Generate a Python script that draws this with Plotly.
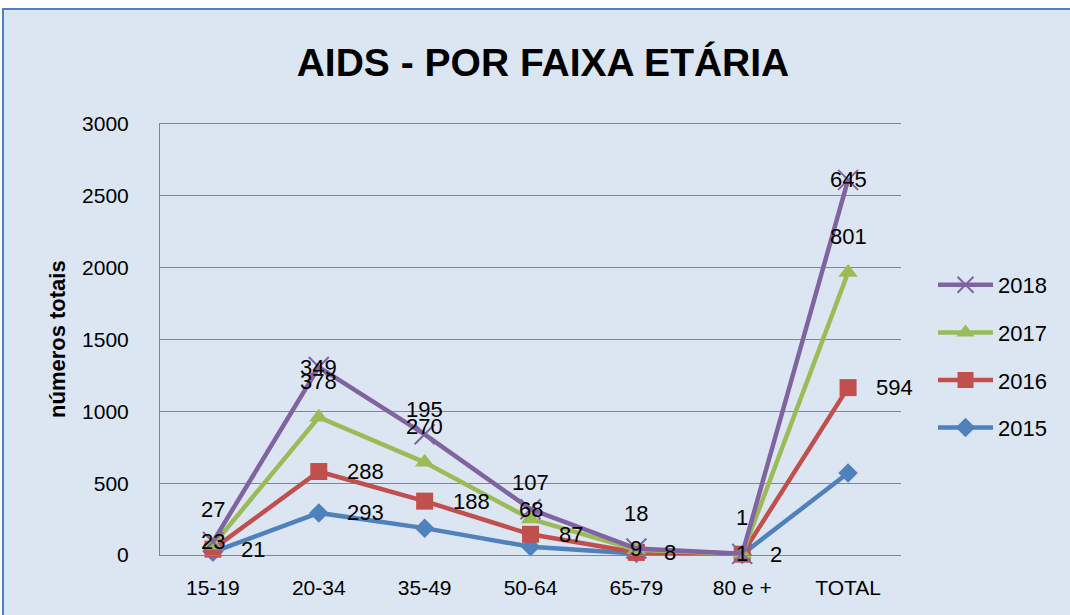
import numpy as np
import plotly.graph_objects as go

categories = ["15-19", "20-34", "35-49", "50-64", "65-79", "80 e +", "TOTAL"]
series_names = ["2015", "2016", "2017", "2018"]
v2015 = [20, 293, 187, 57, 10, 4, 571]
v2016 = [21, 288, 188, 87, 8, 2, 594]
v2017 = [27, 378, 270, 107, 18, 1, 801]
v2018 = [23, 349, 195, 68, 9, 1, 645]
y_ticks = [0, 500, 1000, 1500, 2000, 2500, 3000]

values = [v2015, v2016, v2017, v2018]
colors = ["#4F81BD", "#C0504D", "#9BBB59", "#8064A2"]
symbols = ["diamond", "square", "triangle-up", "x-thin"]
msizes = [15, 17, 17, 20]
ranks = [4, 3, 2, 1]

FONT = "Liberation Sans, Arial, sans-serif"

W, H = 1070, 615
L, R, T, B = 160, 901, 124, 555

def px(xp):
    return (xp - L) / (R - L)

def py(yp):
    return (B - yp) / (B - T)

fig = go.Figure()
for name, vals, col, sym, ms, rk in zip(series_names, values, colors, symbols, msizes, ranks):
    marker = dict(symbol=sym, size=ms, color=col)
    if sym == "x-thin":
        marker["line"] = dict(color=col, width=2)
    fig.add_trace(go.Scatter(
        x=categories, y=vals, name=name, stackgroup="one", fill="none",
        mode="lines+markers", line=dict(color=col, width=4.5),
        marker=marker, cliponaxis=False, legendgroup=name, legendrank=rk,
        hoverinfo="x+y+name",
    ))

# data labels (Excel-like placement)
cum = np.cumsum(np.array(values), axis=0)
annotations = []
label_style = {
    # series index: (which points, xanchor, xshift, yshifts)
    0: ([1], "left", 26, [0] * 7),
    1: (list(range(7)), "left", 26, [0] * 7),
    2: (list(range(7)), "center", 0, [36] * 7),
    3: (list(range(7)), "center", 0, [0, 0, 25, 0, 0, 0, 0]),
}
for si, (pts, xa, xs, ys) in label_style.items():
    for i in pts:
        annotations.append(dict(
            x=categories[i], y=float(cum[si][i]), xref="x", yref="y",
            text=str(values[si][i]), showarrow=False, xanchor=xa,
            yanchor="middle", xshift=xs, yshift=ys[i],
            font=dict(family=FONT, size=22, color="black"),
        ))

# y axis title
annotations.append(dict(
    x=px(57), y=py(339), xref="paper", yref="paper", text="<b>números totais</b>",
    textangle=-90, showarrow=False, xanchor="center", yanchor="middle",
    font=dict(family=FONT, size=22, color="black"),
))

shapes = [dict(
    type="rect", xref="paper", yref="paper", layer="below",
    x0=px(3), x1=px(1085), y0=py(9), y1=py(630),
    fillcolor="#DCE6F2", line=dict(color="#4F81BD", width=2),
)]

fig.update_layout(
    width=W, height=H,
    margin=dict(l=L, r=W - R, t=T, b=H - B, autoexpand=False),
    paper_bgcolor="white", plot_bgcolor="white",
    font=dict(family=FONT, size=21, color="black"),
    title=dict(text="<b>AIDS - POR FAIXA ETÁRIA</b>", x=543 / W, xanchor="center",
               y=1 - 62 / H, yanchor="middle",
               font=dict(family=FONT, size=39, color="black")),
    showlegend=True,
    legend=dict(x=px(933), y=py(264), xanchor="left", yanchor="top",
                traceorder="grouped", tracegroupgap=16, itemwidth=55,
                bgcolor="rgba(0,0,0,0)", font=dict(family=FONT, size=22)),
    annotations=annotations, shapes=shapes,
)
fig.update_xaxes(type="category", range=[-0.5, len(categories) - 0.5],
                 showgrid=False, showline=True, linecolor="#868686",
                 linewidth=1, mirror=True, ticks="", ticklabelstandoff=14,
                 tickfont=dict(family=FONT, size=21))
fig.update_yaxes(range=[0, 3000], tickvals=y_ticks, showgrid=True, gridcolor="#868686",
                 gridwidth=1, zeroline=False, showline=True, linecolor="#868686",
                 linewidth=1, ticks="", ticklabelstandoff=26,
                 tickfont=dict(family=FONT, size=21))

fig.write_html("out.html", config={"displayModeBar": False},
               post_script="document.body.style.margin='0';")
